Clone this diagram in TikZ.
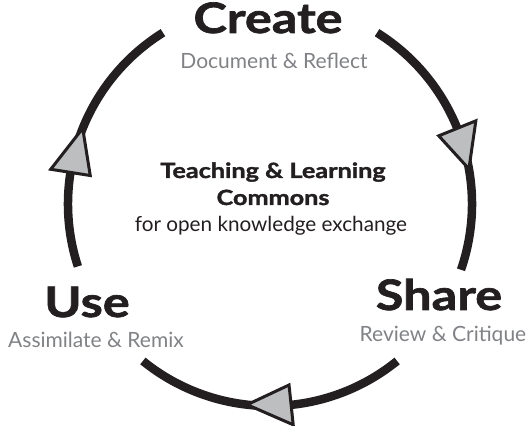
\documentclass[tikz,border=0pt]{standalone}
\usepackage{fontspec}
\setmainfont{Lato}
\newfontfamily\headfont{Lato}[BoldFeatures={FakeStretch=1.2, FakeBold=1.6}]
\definecolor{ink}{RGB}{35,31,32}
\definecolor{subgray}{RGB}{128,130,133}
\definecolor{tipgray}{RGB}{188,190,192}
\begin{document}
\begin{tikzpicture}[
		x=1pt, y=1pt,
		declare function = {
				R = 202;
				W = 20;
			},
		ring/.style = {draw=ink, line width=8.5pt},
		tipbox/.style = {draw=ink, fill=tipgray, line width=3pt},
		headtext/.style = {anchor=base, inner sep=0pt, text=ink, font=\fontsize{42}{42}\selectfont\headfont\bfseries},
		subtext/.style = {anchor=base, inner sep=0pt, text=subgray, font=\fontsize{21}{21}\selectfont},
		midtext/.style = {anchor=base, inner sep=0pt, text=ink, font=\fontsize{20.7}{20.7}\selectfont},
		midhead/.style = {midtext, font=\fontsize{21}{21}\selectfont\headfont\bfseries},
	]
	\useasboundingbox (0,0) rectangle (528,426);
	\coordinate (c) at (270,222);
	% the ring, open where the three labels sit
	\draw[ring] (c) ++(58:R) arc[start angle=58, end angle=-19, radius=R];
	\draw[ring] (c) ++(-51:R) arc[start angle=-51, end angle=-129, radius=R];
	\draw[ring] (c) ++(-162:R) arc[start angle=-162, end angle=-238, radius=R];
	% arrow heads, clockwise
	\foreach \b/\t in {22/10, -84/-96.5, 171/158}
		\draw[tipbox] ([shift={(\b:{R-W})}]c) -- ([shift={(\t:R)}]c) -- ([shift={(\b:{R+W})}]c) -- cycle;
	% labels
	\node[headtext] (create) at (268,393) {Create};
	\node[subtext] (createsub) at ([xshift=6, yshift=-36]create.base) {Document \& Reflect};
	\node[headtext] (share) at (439,116) {Share};
	\node[subtext] (sharesub) at ([xshift=4, yshift=-32]share.base) {Review \& Critique};
	\node[headtext] (use) at (87,109) {Use};
	\node[subtext] (usesub) at ([xshift=9, yshift=-31]use.base) {Assimilate \& Remix};
	\node[midhead] (teaching) at (273,248) {Teaching \& Learning};
	\node[midhead] (commons) at ([yshift=-27]teaching.base) {Commons};
	\node[midtext] (exchange) at ([xshift=-2, yshift=-27]commons.base) {for open knowledge exchange};
\end{tikzpicture}
\end{document}
